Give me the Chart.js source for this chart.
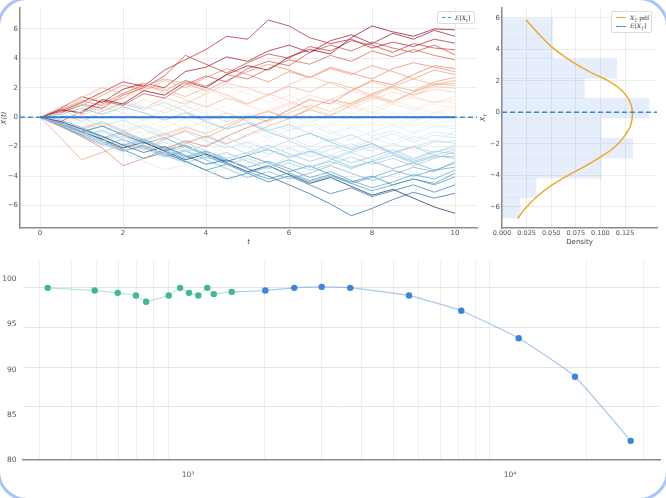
<!DOCTYPE html>
<html><head><meta charset="utf-8">
<script src="https://cdn.jsdelivr.net/npm/chart.js@4.4.1/dist/chart.umd.min.js"></script>
<style>
html,body{margin:0;padding:0;background:#fff;width:666px;height:498px;overflow:hidden;position:relative;}
canvas{position:absolute;}
#c1{left:0;top:0;}
#c2{left:478px;top:0;}
#c3{left:0;top:250px;}
.frame{position:absolute;left:-3px;top:-3px;width:666px;height:498px;border:3px solid #a9c5f3;border-radius:30px;pointer-events:none;}
.leg{position:absolute;background:#fff;border:1px solid #dcdcdc;border-radius:2px;font-family:'DejaVu Serif',serif;font-size:6px;color:#333;}
.row{position:absolute;left:4px;height:8px;line-height:8px;white-space:nowrap;}
.sw{display:inline-block;width:10px;vertical-align:middle;margin-right:4px;}
.ttl{position:absolute;font-family:'DejaVu Sans',sans-serif;font-size:7px;color:#444;font-style:italic;transform:rotate(-90deg);transform-origin:center;white-space:nowrap;}
sub{font-size:4.5px;}
</style>
</head><body>
<canvas id="c1" width="480" height="250"></canvas>
<canvas id="c2" width="188" height="250"></canvas>
<canvas id="c3" width="666" height="248"></canvas>

<div class="leg" style="left:437px;top:11px;width:36px;height:11px;">
  <div class="row" style="top:1.5px;"><span class="sw" style="border-top:1.6px dashed #3d8bd8;width:9px;"></span><i>E</i>[<i>X</i><sub><i>t</i></sub>]</div>
</div>
<div class="leg" style="left:611px;top:11px;width:39px;height:20px;">
  <div class="row" style="top:1.5px;"><span class="sw" style="border-top:1.5px solid #f0a830;"></span><i>X</i><sub><i>T</i></sub> pdf</div>
  <div class="row" style="top:10px;"><span class="sw" style="border-top:1.6px dashed #3d8bd8;"></span><i>E</i>[<i>X</i><sub><i>T</i></sub>]</div>
</div>
<div class="ttl" style="left:480px;top:113px;"><i>X</i><sub><i>T</i></sub></div>
<div class="frame"></div>

<script>
// ---------- top-left: simulated paths X(t) ----------
const times = [0,0.5,1,1.5,2,2.5,3,3.5,4,4.5,5,5.5,6,6.5,7,7.5,8,8.5,9,9.5,10];
const path01 = [0,0.5,0.3,1.2,0.9,1.8,1.5,2.4,2.0,2.9,3.5,3.2,4.1,4.6,4.3,5.4,6.2,5.8,5.5,6.0,5.94];
const path02 = [0,0.6,1.4,1.0,1.9,2.3,2.0,3.1,3.4,4.1,3.8,4.5,4.9,4.4,5.2,5.6,5.0,5.7,5.3,5.9,5.5];
const path03 = [0,0.4,1.0,1.7,2.4,2.1,3.2,3.9,4.6,5.5,5.3,6.6,6.2,5.4,5.0,5.3,4.7,5.1,4.8,5.3,5.03];
const path04 = [0,0.3,0.9,0.6,1.5,2.0,2.8,4.2,3.6,3.0,3.7,4.3,4.0,4.8,4.5,5.2,4.9,4.4,5.0,4.7,4.58];
const path05 = [0,-0.3,0.4,1.1,0.8,1.6,1.3,2.2,2.8,2.4,3.3,3.8,3.5,4.4,4.9,4.5,5.1,4.7,4.4,4.9,4.24];
const path06 = [0,0.6,0.2,0.9,1.6,2.2,1.8,2.5,2.1,2.9,2.6,3.3,3.9,3.6,4.2,3.8,4.5,4.1,4.6,4.2,3.9];
const path07 = [0,-0.6,-1.3,-2.1,-3.3,-2.8,-2.2,-1.6,-2.0,-1.3,-0.7,-0.2,0.5,1.2,0.9,1.8,2.5,2.2,2.9,3.5,3.3];
const path08 = [0,0.3,0.8,1.5,2.2,1.8,2.5,2.0,2.7,3.3,2.9,2.4,3.1,2.7,3.4,3.0,2.6,3.3,3.7,3.4,3.1];
const path09 = [0,0.5,1.1,0.8,1.3,2.1,2.6,2.3,1.8,2.5,3.1,3.6,3.2,2.7,3.3,2.9,3.5,3.1,2.6,3.2,2.9];
const path10 = [0,-1.4,-2.9,-2.4,-1.8,-2.2,-1.5,-0.9,-1.4,-0.7,0.0,0.4,-0.1,0.6,1.2,0.9,1.6,2.1,1.8,2.4,2.7];
const path11 = [0,-0.4,-0.9,-1.5,-1.1,-1.7,-2.3,-1.8,-1.3,-1.8,-1.2,-0.6,-0.1,0.5,0.1,0.8,1.4,1.0,1.7,2.2,2.5];
const path12 = [0,0.7,1.3,2.0,1.6,2.3,1.9,1.4,2.0,1.5,0.9,1.5,2.1,1.7,2.4,2.0,1.5,2.1,2.6,2.2,2.3];
const path13 = [0,-0.3,-0.8,-0.4,-1.0,-1.6,-1.2,-0.7,-1.1,-0.5,0.1,-0.3,0.3,0.8,0.4,1.0,1.5,1.1,1.7,2.3,2.15];
const path14 = [0,0.3,-0.3,0.4,1.0,0.6,1.3,0.9,1.6,2.3,2.0,1.5,2.2,2.8,2.3,1.8,2.4,2.0,1.5,2.1,1.97];
const path15 = [0,0.5,1.2,0.8,1.5,2.1,1.7,1.2,0.7,1.3,0.9,1.6,1.1,0.6,1.2,1.8,1.4,2.0,1.5,1.9,1.7];
const path16 = [0,-0.4,0.1,0.7,0.3,-0.2,0.5,1.1,0.7,1.3,0.8,0.3,0.9,1.5,1.1,0.6,1.2,1.7,1.3,1.0,1.4];
const path17 = [0,0.6,0.2,0.9,0.5,1.2,0.7,0.2,0.8,0.3,-0.2,0.4,1.0,0.6,1.2,0.8,0.3,0.9,1.4,1.0,1.18];
const path18 = [0,-0.3,-0.9,-0.4,-1.0,-0.6,-1.3,-0.8,-0.2,0.3,-0.2,0.4,0.0,0.6,0.2,0.8,1.3,0.9,0.5,1.1,0.95];
const path19 = [0,0.4,0.9,1.6,1.2,1.9,2.5,2.0,1.5,2.1,1.6,1.0,1.5,0.9,0.4,0.9,0.5,1.1,0.7,0.3,0.75];
const path20 = [0,-0.5,0.1,-0.4,-1.1,-0.7,-0.2,-0.8,-0.3,0.3,-0.1,0.5,0.1,-0.4,0.2,0.7,0.3,-0.2,0.4,0.9,0.6];
const path21 = [0,0.7,1.4,2.1,2.7,2.3,1.8,2.4,1.9,1.3,1.9,1.4,0.8,1.3,0.7,0.2,0.8,0.3,-0.2,0.3,0.45];
const path22 = [0,-0.6,-1.3,-0.8,-1.5,-2.2,-1.7,-2.4,-1.9,-1.3,-1.8,-1.2,-0.6,-1.1,-0.5,0.1,-0.4,0.2,-0.3,0.2,0.3];
const path23 = [0,0.3,-0.2,0.5,0.0,0.6,1.1,0.7,0.2,0.8,1.3,0.9,0.4,-0.1,0.5,0.0,-0.5,0.1,0.6,0.0,0.15];
const path24 = [0,-0.4,-1.0,-1.7,-1.2,-1.9,-2.5,-2.0,-2.6,-2.1,-1.6,-2.1,-1.5,-0.9,-1.4,-0.8,-0.3,-0.8,-0.3,0.3,0.0];
const path25 = [0,0.5,1.2,0.7,1.3,0.8,0.3,0.9,0.4,-0.2,0.3,-0.3,0.2,-0.4,0.1,0.6,0.1,-0.5,0.0,-0.5,-0.1];
const path26 = [0,-0.2,0.4,-0.1,-0.7,-0.2,-0.8,-1.4,-0.9,-1.5,-2.0,-1.5,-2.1,-1.6,-1.1,-1.6,-1.0,-0.5,-1.0,-0.4,-0.25];
const path27 = [0,0.4,0.9,0.4,-0.1,0.5,1.0,0.5,1.1,0.6,0.1,0.7,0.2,-0.3,0.3,-0.2,0.4,-0.1,-0.6,-0.1,-0.38];
const path28 = [0,-0.6,-0.1,-0.7,-1.4,-0.9,-1.6,-2.3,-1.8,-2.5,-3.1,-2.6,-2.0,-2.6,-2.1,-1.5,-1.0,-1.6,-1.1,-0.6,-0.55];
const path29 = [0,0.3,-0.3,-1.0,-0.5,-1.2,-0.7,-0.1,-0.7,-0.2,-0.8,-1.4,-0.9,-0.3,-0.9,-1.5,-1.0,-0.5,-1.1,-0.6,-0.8];
const path30 = [0,-0.5,-1.1,-1.8,-2.4,-3.0,-3.6,-3.2,-3.9,-3.4,-2.8,-3.3,-2.7,-2.1,-2.6,-2.0,-1.4,-1.9,-1.3,-1.6,-1.0];
const path31 = [0,0.4,0.9,0.5,1.1,0.7,0.3,0.8,0.2,-0.3,0.2,-0.4,-0.9,-0.5,-1.1,-0.7,-1.3,-0.9,-1.5,-1.0,-1.2];
const path32 = [0,-0.3,-0.8,-0.3,-0.9,-0.5,-1.1,-0.6,-1.2,-1.8,-1.3,-0.8,-1.4,-2.0,-1.5,-2.1,-1.6,-1.1,-1.7,-1.2,-1.4];
const path33 = [0,-0.7,-1.3,-1.0,-1.6,-2.1,-1.7,-2.3,-1.9,-1.4,-2.0,-2.5,-2.1,-2.7,-2.2,-1.8,-2.3,-1.8,-2.2,-1.7,-1.6];
const path34 = [0,0.4,0.0,-0.6,-0.2,-0.8,-1.4,-1.0,-1.6,-2.1,-1.7,-2.2,-2.8,-2.4,-1.9,-2.4,-2.0,-2.5,-2.0,-1.6,-1.77];
const path35 = [0,-0.4,-1.0,-1.6,-1.3,-1.9,-2.4,-2.0,-2.6,-3.2,-2.8,-3.3,-2.9,-3.4,-2.9,-2.4,-2.9,-2.4,-2.0,-2.4,-1.9];
const path36 = [0,-0.2,-0.7,-0.3,-0.9,-1.5,-1.1,-1.7,-1.3,-1.9,-2.5,-2.1,-1.6,-2.2,-2.8,-2.3,-1.8,-2.4,-2.9,-2.4,-2.05];
const path37 = [0,0.3,0.8,0.4,0.9,0.5,1.0,0.4,-0.2,0.3,-0.3,-0.9,-0.5,-1.1,-1.6,-1.2,-1.8,-2.4,-2.0,-2.6,-2.2];
const path38 = [0,-0.6,-1.2,-0.9,-1.5,-2.0,-2.6,-2.2,-2.8,-2.4,-3.0,-3.5,-3.1,-3.6,-3.2,-2.7,-3.2,-2.8,-3.3,-2.8,-2.35];
const path39 = [0,-0.3,-0.9,-1.5,-2.0,-1.6,-2.1,-1.7,-2.3,-2.8,-2.4,-1.9,-2.5,-3.0,-2.6,-3.1,-2.7,-2.2,-2.8,-2.3,-2.5];
const path40 = [0,-0.5,-1.1,-1.7,-2.3,-2.0,-2.6,-3.1,-2.7,-3.2,-3.8,-3.4,-2.9,-3.4,-3.0,-3.5,-3.0,-2.6,-3.1,-2.7,-2.65];
const path41 = [0,0.2,0.6,0.2,0.7,0.3,-0.2,0.3,-0.3,-0.8,-0.4,-1.0,-1.5,-1.1,-1.7,-2.2,-1.8,-2.5,-3.0,-2.6,-2.8];
const path42 = [0,-0.6,-1.3,-1.9,-1.5,-2.1,-2.7,-2.3,-2.9,-3.5,-4.1,-3.7,-4.2,-3.8,-3.3,-3.8,-4.3,-3.9,-3.4,-3.7,-3.0];
const path43 = [0,-0.3,-0.8,-1.4,-1.0,-1.6,-2.2,-2.8,-2.4,-3.0,-2.6,-2.2,-2.7,-2.3,-2.8,-3.4,-3.0,-3.5,-3.1,-3.6,-3.13];
const path44 = [0,-0.5,-1.0,-0.6,-1.2,-1.8,-1.4,-2.0,-2.6,-3.2,-3.8,-3.3,-3.9,-4.4,-4.0,-4.5,-4.1,-3.6,-4.0,-3.6,-3.4];
const path45 = [0,-0.2,-0.7,-1.3,-1.9,-1.5,-2.1,-2.7,-2.3,-2.9,-3.4,-3.0,-3.5,-4.1,-3.7,-4.3,-4.8,-4.4,-3.9,-4.2,-3.6];
const path46 = [0,-0.6,-1.2,-1.8,-2.3,-1.9,-2.5,-3.0,-3.6,-3.2,-3.7,-4.2,-3.8,-4.3,-3.9,-4.5,-5.0,-4.6,-4.2,-4.5,-3.81];
const path47 = [0,-0.4,-1.0,-0.6,-1.2,-1.7,-2.3,-1.9,-2.5,-3.0,-2.6,-3.1,-3.7,-3.3,-3.9,-4.4,-4.0,-4.6,-4.2,-4.6,-4.05];
const path48 = [0,-0.5,-1.1,-1.6,-2.2,-2.8,-2.4,-3.0,-3.6,-4.2,-3.8,-4.4,-4.0,-4.6,-5.2,-4.8,-5.4,-5.0,-4.6,-5.1,-4.6];
const path49 = [0,-0.3,-0.8,-1.3,-1.9,-2.4,-2.0,-2.6,-3.2,-2.9,-3.5,-4.0,-4.6,-5.2,-5.9,-6.7,-6.2,-5.6,-5.1,-5.5,-5.17];
const path50 = [0,-0.4,-1.0,-1.5,-2.1,-1.7,-2.3,-2.9,-2.5,-3.1,-3.7,-3.3,-3.9,-4.5,-4.1,-4.7,-5.3,-4.9,-5.5,-6.1,-6.53];
const allPaths = [path21,path44,path03,path30,path12,path49,path07,path26,path40,path01,path17,path35,path10,path46,path23,path05,path38,path14,path28,path50,
  path09,path33,path19,path42,path02,path24,path36,path15,path47,path06,path31,path20,path45,path11,path39,path04,path27,path43,path13,path48,
  path08,path34,path18,path41,path16,path29,path22,path37,path25,path32];
const meanValue = 0;

// ---------- top-right: terminal distribution ----------
const histCenters = [-6.077,-4.811,-3.545,-2.279,-1.013,0.253,1.519,2.785,4.051,5.317];
const histDensity = [0.0183,0.0346,0.1006,0.1328,0.1006,0.1494,0.0837,0.1165,0.0515,0.0515];
const pdfDensity = [0.0244,0.0369,0.0505,0.0691,0.0894,0.1098,0.1233,0.1308,0.1325,0.1308,0.1250,0.1165,0.1030,0.0860,0.0674,0.0505,0.0352,0.0234,0.0159];
const pdfValue   = [5.88,5.0,4.15,3.30,2.56,1.93,1.29,0.55,-0.08,-0.83,-1.46,-2.10,-2.73,-3.37,-4.00,-4.63,-5.38,-6.12,-6.75];
const densityTicks = [0,0.025,0.05,0.075,0.1,0.125];

// ---------- bottom: accuracy vs N (log) ----------
const greenN   = [423,592,698,795,855,1005,1090,1162,1242,1324,1387,1577];
const greenAcc = [99.04,98.75,98.49,98.19,97.50,98.19,99.04,98.49,98.19,99.04,98.35,98.60];
const blueN    = [2005,2467,3001,3682,5603,8145,12280,18365,27350];
const blueAcc  = [98.75,99.04,99.15,99.04,98.19,96.51,93.46,89.21,82.12];
const logGridValues = [400,500,600,700,800,900,1000,2000,3000,4000,5000,6000,7000,8000,9000,10000,20000,30000];
const logTickValues = [1000,10000];
const logTickLabels = ['10³','10⁴'];
const accTicks = [80,85,90,95,100];

// ---------- helpers ----------
const rdbu = ['#053061','#2166ac','#4393c3','#92c5de','#d1e5f0','#f7f7f7','#fddbc7','#f4a582','#d6604d','#b2182b','#67001f'];
function hex(h){return [parseInt(h.substr(1,2),16),parseInt(h.substr(3,2),16),parseInt(h.substr(5,2),16)];}
function cmap(f,a){
  f=Math.max(0,Math.min(1,f));
  const p=f*(rdbu.length-1), i=Math.min(rdbu.length-2,Math.floor(p)), r=p-i;
  const c0=hex(rdbu[i]), c1=hex(rdbu[i+1]);
  const c=c0.map((v,k)=>Math.round(v+(c1[k]-v)*r));
  return `rgba(${c[0]},${c[1]},${c[2]},${a})`;
}
const tickFont = {family:'DejaVu Sans', size:7};
const tickColor = '#555';
const minus = v => (v<0?'\u2212'+Math.abs(v):String(v));
Chart.defaults.animation = false;
Chart.defaults.responsive = false;
Chart.defaults.plugins.legend.display = false;
Chart.defaults.plugins.tooltip.enabled = false;

// ---------- chart 1 ----------
const T_MIN=-0.482, T_MAX=10.53;
const ds1 = [
  {data:[{x:0,y:meanValue},{x:10,y:meanValue}], borderColor:'#2f7ed3', borderWidth:2, pointRadius:0},
  {data:[{x:T_MIN,y:meanValue},{x:T_MAX,y:meanValue}], borderColor:'#3d8bd8', borderWidth:1.6, borderDash:[5,3], pointRadius:0}
];
allPaths.forEach(p=>{
  ds1.push({data:times.map((t,i)=>({x:t,y:p[i]})), borderColor:cmap((p[p.length-1]+6.5)/13,0.72), borderWidth:1, pointRadius:0, tension:0});
});
new Chart(document.getElementById('c1'),{
  type:'line',
  data:{datasets:ds1},
  options:{
    devicePixelRatio:1,
    layout:{padding:{left:0,right:3,top:8,bottom:0}},
    scales:{
      x:{type:'linear',min:T_MIN,max:T_MAX,
         ticks:{stepSize:2,includeBounds:false,font:tickFont,color:tickColor,padding:1,maxRotation:0,callback:v=>minus(v)},
         grid:{color:'#ececec',drawTicks:false},
         border:{color:'#8c8c8c',width:1.5},
         title:{display:true,text:'t',font:{family:'DejaVu Sans',size:7,style:'italic'},color:'#444',padding:{top:0,bottom:4}},
         afterFit:s=>{s.height=22;}},
      y:{type:'linear',min:-7.53,max:7.42,
         ticks:{stepSize:2,includeBounds:false,font:tickFont,color:tickColor,padding:2,callback:v=>minus(v)},
         grid:{color:'#ececec',drawTicks:false},
         border:{color:'#8c8c8c',width:1.5},
         title:{display:true,text:'X(t)',font:{family:'DejaVu Sans',size:7,style:'italic'},color:'#444',padding:0},
         afterFit:s=>{s.width=20;}}
    }
  }
});

// ---------- chart 2 ----------
const R_MAX=0.1575;
new Chart(document.getElementById('c2'),{
  type:'bar',
  data:{datasets:[
    {type:'line',indexAxis:'y',data:[{x:0,y:meanValue},{x:R_MAX,y:meanValue}],borderColor:'#3d8bd8',borderWidth:1.6,borderDash:[5,3],pointRadius:0},
    {type:'line',indexAxis:'y',data:pdfDensity.map((d,i)=>({x:d,y:pdfValue[i]})),borderColor:'#f0a830',borderWidth:1.5,pointRadius:0,tension:0.4},
    {type:'bar',data:histCenters.map((c,i)=>({x:histDensity[i],y:c})),backgroundColor:'rgba(100,149,237,0.16)',borderWidth:0,barPercentage:1,categoryPercentage:1}
  ]},
  options:{
    devicePixelRatio:1,
    indexAxis:'y',
    layout:{padding:{left:0,right:9,top:8,bottom:0}},
    scales:{
      x:{type:'linear',min:0,max:R_MAX,offset:false,
         afterBuildTicks:s=>{s.ticks=densityTicks.map(v=>({value:v}));},
         ticks:{font:{family:'DejaVu Sans',size:6.5},color:tickColor,padding:1,maxRotation:0,autoSkip:false,callback:v=>Number(v).toFixed(3)},
         grid:{color:'#ececec',drawTicks:false},
         border:{color:'#8c8c8c',width:1.5},
         title:{display:true,text:'Density',font:{family:'DejaVu Sans',size:7},color:'#444',padding:{top:0,bottom:4}},
         afterFit:s=>{s.height=22;}},
      y:{type:'linear',min:-7.35,max:6.62,offset:false,
         ticks:{stepSize:2,includeBounds:false,font:tickFont,color:tickColor,padding:2,callback:v=>minus(v)},
         grid:{color:'#ececec',drawTicks:false,offset:false},
         border:{color:'#8c8c8c',width:1.5},
         afterFit:s=>{s.width=24;}}
    }
  }
});

// ---------- chart 3 ----------
new Chart(document.getElementById('c3'),{
  type:'line',
  data:{datasets:[
    {data:greenN.map((n,i)=>({x:n,y:greenAcc[i]})),yAxisID:'y',borderColor:'rgba(64,185,135,0.45)',borderWidth:1,pointRadius:3.2,pointBackgroundColor:'#3fba88',pointBorderWidth:0,tension:0},
    {data:[{x:greenN[greenN.length-1],y:greenAcc[greenAcc.length-1]}].concat(blueN.map((n,i)=>({x:n,y:blueAcc[i]}))),yAxisID:'y',
     borderColor:'rgba(66,135,214,0.45)',borderWidth:1.2,pointRadius:c=>c.dataIndex===0?0:3.2,pointBackgroundColor:'#3d84d6',pointBorderWidth:0,tension:0.15}
  ]},
  options:{
    devicePixelRatio:1,
    layout:{padding:{left:0,right:6,top:10,bottom:0}},
    scales:{
      x:{type:'logarithmic',min:354.5,max:33730,
         afterBuildTicks:s=>{s.ticks=logGridValues.map(v=>({value:v}));},
         ticks:{autoSkip:false,maxRotation:0,padding:11,labelOffset:20,font:{family:'DejaVu Sans',size:7.5},color:tickColor,
                callback:v=>{const i=logTickValues.indexOf(v);return i>=0?logTickLabels[i]:'';}},
         grid:{color:'#eeeeee',drawTicks:false},
         border:{color:'#8a8a8a',width:1.5},
         afterFit:s=>{s.height=38;}},
      y:{position:'left',min:80,max:102.01,
         afterBuildTicks:s=>{s.ticks=accTicks.map(v=>({value:v}));},
         ticks:{font:{family:'DejaVu Sans',size:7.5},color:tickColor,padding:6.5},
         grid:{display:false,drawTicks:false},border:{display:false},
         afterFit:s=>{s.width=23;}},
      y2:{position:'left',min:78.34,max:103.34,
         afterBuildTicks:s=>{s.ticks=accTicks.map(v=>({value:v}));},
         ticks:{display:false},
         grid:{color:c=>(c.tick&&c.tick.value===80)?'rgba(0,0,0,0)':'#e4e4e4',drawTicks:false},
         border:{display:false},
         afterFit:s=>{s.width=0;}}
    }
  }
});
</script>
</body></html>
